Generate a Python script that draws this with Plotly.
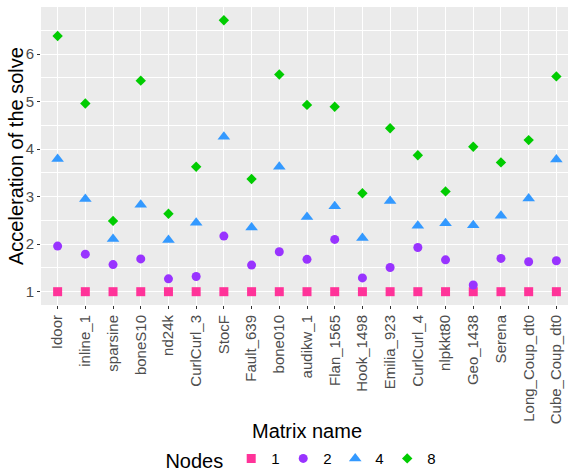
import plotly.graph_objects as go

matrices = ["Idoor", "inline_1", "sparsine", "boneS10", "nd24k", "CurlCurl_3", "StocF",
            "Fault_639", "bone010", "audikw_1", "Flan_1565", "Hook_1498", "Emilia_923",
            "CurlCurl_4", "nlpkkt80", "Geo_1438", "Serena", "Long_Coup_dt0", "Cube_Coup_dt0"]
nodes1 = [1.0] * 19
nodes2 = [1.96, 1.79, 1.57, 1.69, 1.27, 1.32, 2.17, 1.56, 1.84, 1.68, 2.10, 1.29, 1.51,
          1.93, 1.67, 1.14, 1.70, 1.63, 1.65]
nodes4 = [3.79, 2.95, 2.11, 2.83, 2.09, 2.45, 4.26, 2.35, 3.63, 2.57, 2.80, 2.13, 2.91,
          2.39, 2.44, 2.40, 2.60, 2.96, 3.78]
nodes8 = [6.38, 4.96, 2.49, 5.44, 2.64, 3.63, 6.71, 3.37, 5.57, 4.93, 4.89, 3.07, 4.44,
          3.87, 3.11, 4.05, 3.72, 4.19, 5.53]

series = [
    ("1", nodes1, "square", "#FF3399", 9),
    ("2", nodes2, "circle", "#9933FF", 9),
    ("4", nodes4, "triangle-up", "#3399FF", 11),
    ("8", nodes8, "diamond", "#00CC00", 8),
]

fig = go.Figure()
for name, vals, sym, col, sz in series:
    fig.add_trace(go.Scatter(x=matrices, y=vals, mode="markers", name=name,
                             marker=dict(symbol=sym, color=col, size=sz, line=dict(width=0))))

font_family = "Liberation Sans, Arial, sans-serif"
fig.update_layout(
    width=573, height=471,
    margin=dict(l=41, r=0, t=7, b=166, autoexpand=False),
    paper_bgcolor="white", plot_bgcolor="#EBEBEB",
    font=dict(family=font_family, color="black"),
    showlegend=True,
    legend=dict(orientation="h", x=0.526, xanchor="center", xref="container",
                y=0.023, yanchor="middle", yref="container",
                title=dict(text="Nodes", font=dict(size=20, color="black"), side="left"),
                font=dict(size=15, color="black"), itemwidth=30,
                entrywidth=7, entrywidthmode="pixels", traceorder="normal"),
    xaxis=dict(
        type="category", categoryorder="array", categoryarray=matrices,
        range=[-0.6, 18.6], tickangle=-90, automargin=False,
        tickfont=dict(size=15, color="#4D4D4D"),
        ticks="outside", ticklen=3, tickcolor="#333333",
        showgrid=True, gridcolor="white", gridwidth=1.1,
        zeroline=False, showline=False,
        title=dict(text="Matrix name", font=dict(size=20, color="black"), standoff=9),
    ),
    yaxis=dict(
        range=[0.72, 6.99], tickvals=[1, 2, 3, 4, 5, 6], automargin=False,
        tickfont=dict(size=15, color="#4D4D4D"),
        ticks="outside", ticklen=3, tickcolor="#333333",
        showgrid=True, gridcolor="white", gridwidth=1.1,
        minor=dict(tickvals=[1.5, 2.5, 3.5, 4.5, 5.5, 6.5], showgrid=True,
                   gridcolor="white", gridwidth=0.5, ticks=""),
        zeroline=False, showline=False,
    ),
    annotations=[dict(text="Acceleration of the solve", textangle=-90,
                      xref="paper", yref="paper", x=0, y=0.5,
                      xanchor="center", yanchor="middle", xshift=-25,
                      showarrow=False, font=dict(size=20, color="black"))],
)

fig.write_html("out.html", config={"displayModeBar": False},
               post_script="document.body.style.margin='0';document.body.style.overflow='hidden';")
